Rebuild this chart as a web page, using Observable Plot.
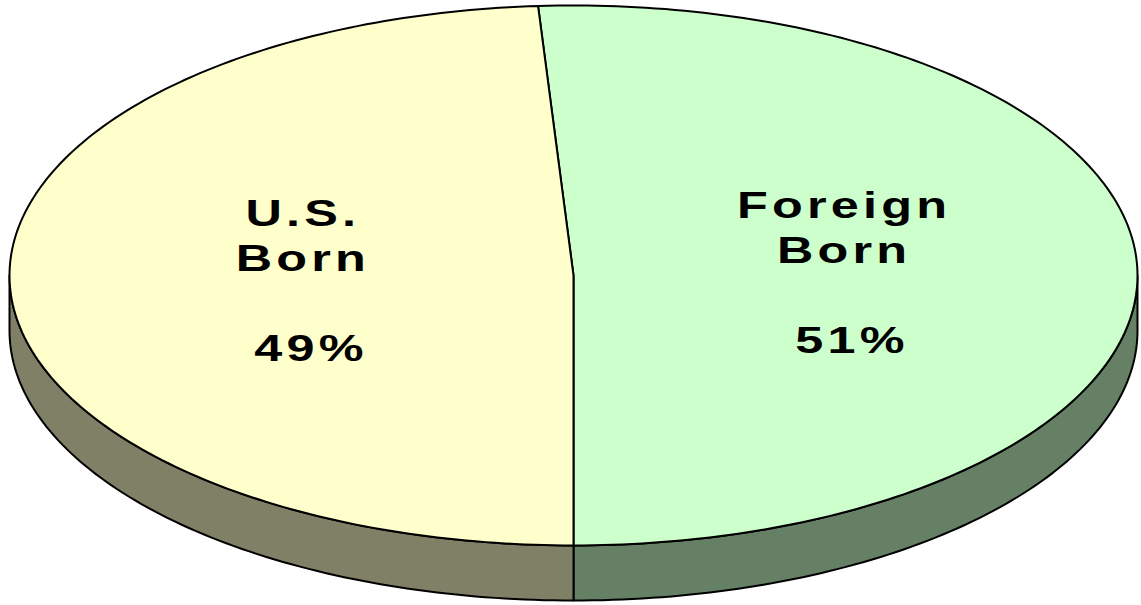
<!DOCTYPE html>
<html><head><meta charset="utf-8">
<script src="https://cdn.jsdelivr.net/npm/d3@7"></script>
<script src="https://cdn.jsdelivr.net/npm/@observablehq/plot@0.6"></script>
<style>body{margin:0;background:#fff} #chart{width:1141px;height:605px}</style>
</head><body><div id="chart"></div>
<script>
const categories = ["Foreign Born", "U.S. Born"];
const shares = [51, 49];
const nameLabels = ["Foreign\nBorn", "U.S.\nBorn"];
const pctLabels = ["51%", "49%"];
const topColors = ["#ccffcc", "#ffffcc"];
const sideColors = ["#668066", "#808066"];

const depth = 0.204;      // extrusion depth (y units)
const endAngle = 180;     // first slice ends at the bottom
const total = d3.sum(shares);
let acc = endAngle - shares[0] / total * 360;
const slices = categories.map((c, i) => { const a0 = acc; acc += shares[i] / total * 360; return {c, i, a0, a1: acc, mid: (a0 + acc) / 2}; });
const pt = (deg, dy = 0) => ({x: Math.sin(deg * Math.PI / 180), y: Math.cos(deg * Math.PI / 180) + dy});
function arc(a0, a1, dy = 0) {
  const n = Math.max(2, Math.ceil(Math.abs(a1 - a0)));
  return d3.range(n + 1).map(k => pt(a0 + (a1 - a0) * k / n, dy));
}
const sideMarks = slices.map(s => {
  const s0 = Math.max(s.a0, 90), s1 = Math.min(s.a1, 270);
  if (s1 <= s0) return null;
  const pts = [...arc(s0, s1, 0), ...arc(s1, s0, -depth)];
  return Plot.line(pts, {x: "x", y: "y", fill: sideColors[s.i], stroke: "black", strokeWidth: 2, curve: "linear-closed"});
}).filter(Boolean);
const topMarks = slices.map(s => {
  const pts = [{x: 0, y: 0}, ...arc(s.a0, s.a1, 0)];
  return Plot.line(pts, {x: "x", y: "y", fill: topColors[s.i], stroke: "black", strokeWidth: 2, curve: "linear-closed"});
});
const labelR = 0.48;
const labels = slices.map(s => ({x: pt(s.mid).x * labelR, y: pt(s.mid).y * labelR, name: nameLabels[s.i], pct: pctLabels[s.i]}));

const font = "Liberation Sans, Arial, sans-serif";
const chart = Plot.plot({
  width: 1141, height: 605, margin: 0,
  x: {domain: [-1, 1], range: [9, 1137], axis: null},
  y: {domain: [-1 - depth, 1], range: [600, 5], axis: null},
  style: {background: "white"},
  marks: [
    ...sideMarks,
    ...topMarks,
    Plot.text(labels, {x: "x", y: "y", text: "name", dy: -45, fontSize: 36, fontWeight: "bold", lineHeight: 1.25, fill: "black", fontFamily: font}),
    Plot.text(labels, {x: "x", y: "y", text: "pct", dy: 70, dx: 8, fontSize: 36, fontWeight: "bold", fill: "black", fontFamily: font})
  ]
});
d3.select(chart).selectAll("g[aria-label='text'] text").each(function() {
  const t = d3.select(this);
  const tr = t.attr("transform") || "";
  t.attr("transform", tr + " scale(1.4,1)").attr("letter-spacing", "3px");
});
document.getElementById("chart").append(chart);
</script>
</body></html>
